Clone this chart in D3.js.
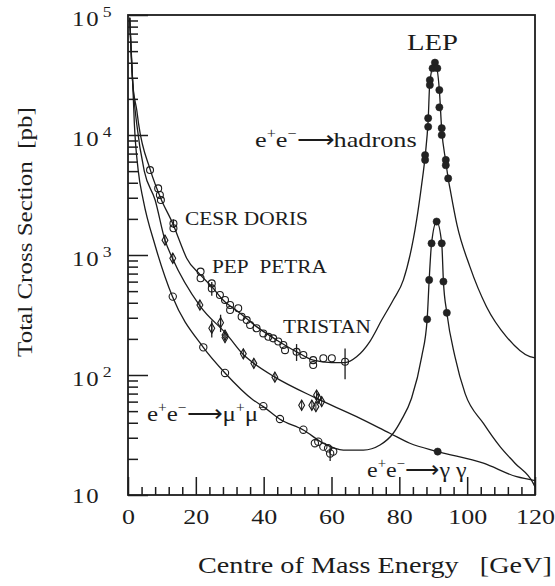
<!DOCTYPE html>
<html>
<head>
<meta charset="utf-8">
<script src="https://cdn.jsdelivr.net/npm/d3@7"></script>
<style>
  body { margin: 0; background: #fff; }
  svg { display: block; }
  svg text { font-family: "Liberation Serif", "Times New Roman", serif; fill: #1c1c1c; }
</style>
</head>
<body>
<svg id="chart" width="555" height="586"></svg>
<script>
// ---- Data (energy in GeV, cross section in pb) ----

// Theory curves
const hadronCurve = [
  [0.5, 95000], [1.4, 27000], [2.6, 16000], [3.1, 12500], [6.6, 5100], [9.8, 2900],
  [13.3, 1800], [15.3, 1290], [17.3, 940], [21.2, 690], [24.7, 545], [28.1, 420],
  [32.5, 337], [37.9, 253], [43.8, 196], [49.7, 156], [54.6, 133], [60, 127], [64, 127],
  [67.4, 142], [71.3, 190], [74.8, 287], [78.2, 422], [81.2, 620], [85.1, 1960],
  [86.6, 3900], [87.6, 6600], [88.5, 13300], [89.0, 27800], [90.5, 40500], [91.8, 23700],
  [92.5, 11000], [93.7, 6000], [94.4, 4350], [95.0, 3500], [97.0, 1780], [100.8, 800],
  [105.7, 371], [111.6, 208], [118.5, 142], [120, 139]
];
const gammaCurve = [
  [0.5, 95000], [1.4, 27000], [2.55, 12500], [4.8, 5000], [8.0, 2870], [10.9, 1330],
  [13.1, 940], [21.2, 377], [29.3, 215], [34.0, 148], [37.1, 125], [43.3, 96],
  [55.0, 65], [67.4, 45], [77.2, 32.7], [83.1, 27], [91.3, 23], [104.8, 18.4],
  [114.6, 14.2], [120, 13.2]
];
const muonCurve = [
  [0.5, 95000], [1.4, 27000], [1.87, 12500], [3.0, 5100], [4.5, 2870], [8.0, 1200],
  [13.1, 450], [22.2, 170], [28.6, 104], [36.9, 62], [39.9, 54.5], [44.8, 42.8],
  [51.7, 34.8], [57.6, 27], [63.5, 23.7], [69.4, 23.7], [74.3, 26.1], [78.2, 32.7],
  [80.5, 41.7], [83.6, 64], [86.6, 142], [88.2, 291], [88.8, 620], [89.5, 1250],
  [91.0, 1900], [92.5, 1250], [93.0, 600], [94.0, 330], [96.4, 142], [99.4, 70],
  [104.8, 39.5], [109.7, 25.3], [114.1, 18.4], [119.5, 12.5], [120, 11.7]
];

// Measurements: [energy, cross section, error]
const hadronData = [
  [6.5, 5100, 0], [8.9, 3590, 0], [9.4, 3160, 0], [9.7, 2870, 0], [13.4, 1830, 150], [13.4, 1670, 0],
  [21.4, 727, 0], [21.4, 640, 0], [24.7, 580, 0], [24.7, 527, 70], [27.1, 464, 0], [28.6, 422, 0],
  [30.1, 383, 0], [30.1, 348, 0], [32.5, 360, 0], [33.5, 306, 0], [35.0, 287, 0], [36.0, 261, 0],
  [37.9, 245, 0], [39.9, 222, 0], [41.4, 208, 0], [42.8, 202, 0], [44.3, 190, 0], [45.8, 178, 0],
  [46.3, 161, 0], [49.7, 156, 25], [51.7, 147, 0], [54.6, 133, 0], [54.6, 121, 0], [57.6, 138, 0],
  [60.1, 138, 0], [64.0, 129, 37]
];
const gammaData = [
  [10.9, 1330, 0], [13.2, 940, 0], [21.2, 383, 0], [24.7, 245, 40], [27.3, 273, 45],
  [28.6, 215, 0], [28.6, 205, 0], [34.0, 150, 0], [37.1, 125, 0], [43.3, 96, 0],
  [51.2, 56, 0], [54.2, 56, 0], [55.6, 68, 0], [56.1, 64, 0], [57.1, 60, 0], [55.4, 54.5, 0]
];
const muonData = [
  [13.2, 450, 0], [22.2, 170, 0], [28.6, 104, 0], [39.9, 55, 0], [44.8, 43, 0], [51.7, 35, 0],
  [55.1, 27, 0], [56.1, 27.8, 0], [57.6, 25.3, 0], [59.0, 24.5, 0], [60.5, 23, 0], [59.6, 22.2, 3]
];
const lepHadron = [
  [90.5, 40100], [89.8, 36000], [91.2, 36000], [89.0, 28700], [89.0, 26100], [91.8, 23700],
  [91.8, 17000], [88.5, 13800], [88.5, 11700], [92.5, 11400], [92.5, 10000], [87.6, 6800],
  [87.6, 6200], [93.7, 6200], [93.7, 5600], [94.4, 4350]
];
const lepMuon = [
  [91.0, 1900], [89.5, 1250], [92.5, 1250], [88.8, 620], [93.0, 600], [88.2, 291], [94.0, 330]
];
const lepGamma = [[91.3, 23]];

// Axis ticks
const xMajorTicks = [0, 20, 40, 60, 80, 100, 120];
const xMinorTicks = [4, 8, 12, 16, 24, 28, 32, 36, 44, 48, 52, 56, 64, 68, 72, 76, 84, 88, 92, 96, 104, 108, 112, 116];
const yDecades = [10, 100, 1000, 10000, 100000];
const yDecadeExponents = ["", "2", "3", "4", "5"];

// ---- Drawing ----
const svg = d3.select("#chart");
const ink = "#1c1c1c";
const serif = '"Liberation Serif", "Times New Roman", serif';
const SX = 1.18; // horizontal stretch of the lettering

const x = d3.scaleLinear().domain([0, 120]).range([128, 535]);
const y = d3.scaleLog().domain([10, 1e5]).range([495, 15]);

function addText(parent) {
  return (parent || svg).append("text").style("font-family", serif).attr("fill", ink);
}

// frame
svg.append("rect")
  .attr("x", x(0)).attr("y", y(1e5))
  .attr("width", x(120) - x(0)).attr("height", y(10) - y(1e5))
  .attr("fill", "none").attr("stroke", ink).attr("stroke-width", 1.8);

function styleAxis(g) {
  g.attr("font-family", null);
  g.select(".domain").remove();
  g.selectAll(".tick line").attr("stroke", ink).attr("stroke-width", 1.5);
}

// x axis: minor and major ticks pointing inward
svg.append("g").attr("transform", `translate(0,${y(10)})`)
  .call(d3.axisBottom(x).tickValues(xMinorTicks).tickSize(-8).tickFormat(""))
  .call(styleAxis);
svg.append("g").attr("transform", `translate(0,${y(10)})`)
  .call(d3.axisBottom(x).tickValues(xMajorTicks).tickSize(-18).tickPadding(13).tickFormat(d3.format("d")))
  .call(styleAxis)
  .call(g => g.selectAll(".tick text")
    .style("font-family", serif).style("font-size", "22px").attr("fill", ink)
    .attr("transform", `scale(${SX},1)`));

// y axis: log ticks pointing inward
const yMinor = [];
yDecades.slice(0, -1).forEach(d => { for (let k = 2; k <= 9; k++) yMinor.push(d * k); });
svg.append("g").attr("transform", `translate(${x(0)},0)`)
  .call(d3.axisLeft(y).tickValues(yMinor).tickSize(-10).tickFormat(""))
  .call(styleAxis);
svg.append("g").attr("transform", `translate(${x(0)},0)`)
  .call(d3.axisLeft(y).tickValues(yDecades).tickSize(-20).tickFormat(""))
  .call(styleAxis);

// decade labels 10, 10^2 ... 10^5
yDecades.forEach((v, i) => {
  const t = addText()
    .attr("transform", `translate(72,${y(v) + (i === 0 ? 8 : 11)}) scale(${SX},1)`)
    .attr("font-size", 21).attr("letter-spacing", 1.5);
  t.append("tspan").text("10");
  if (yDecadeExponents[i]) {
    t.append("tspan").attr("dx", 2).attr("dy", -9).attr("font-size", 15).attr("letter-spacing", 0)
      .text(yDecadeExponents[i]);
  }
});

// fit a text element to a given width by horizontal scaling
function placeText(sel, x0, yBase, width) {
  const w = sel.node().getComputedTextLength();
  sel.attr("transform", `translate(${x0},${yBase}) scale(${width / w},1)`);
  return sel;
}

// axis titles
placeText(addText().attr("font-size", 23)
  .text("Centre of Mass Energy\u00a0\u00a0\u00a0[GeV]"), 198, 573, 354);
{
  const t = addText().attr("font-size", 22).text("Total Cross Section\u00a0\u00a0[pb]");
  const w = t.node().getComputedTextLength();
  t.attr("text-anchor", "middle")
   .attr("transform", `translate(32,232) rotate(-90) scale(${250 / w},1)`);
}

// theory curves
const line = d3.line().x(d => x(d[0])).y(d => y(d[1])).curve(d3.curveMonotoneX);
[hadronCurve, gammaCurve, muonCurve].forEach(c => {
  svg.append("path").datum(c).attr("d", line)
    .attr("fill", "none").attr("stroke", ink).attr("stroke-width", 1.3);
});

// error bars
function errorBars(data) {
  svg.append("g").selectAll("line").data(data.filter(d => d[2] > 0)).join("line")
    .attr("x1", d => x(d[0])).attr("x2", d => x(d[0]))
    .attr("y1", d => y(d[1] - d[2])).attr("y2", d => y(d[1] + d[2]))
    .attr("stroke", ink).attr("stroke-width", 1.3);
}
errorBars(hadronData);
errorBars(gammaData);
errorBars(muonData);

// open markers
function openMarks(data, type, size) {
  svg.append("g").selectAll("path").data(data).join("path")
    .attr("transform", d => `translate(${x(d[0])},${y(d[1])})`)
    .attr("d", d3.symbol().type(type).size(size))
    .attr("fill", "none").attr("stroke", ink).attr("stroke-width", 1.1);
}
openMarks(hadronData, d3.symbolCircle, 38);
openMarks(gammaData, d3.symbolDiamond, 30);
svg.append("g").selectAll("line").data(gammaData).join("line")
  .attr("x1", d => x(d[0])).attr("x2", d => x(d[0]))
  .attr("y1", d => y(d[1]) - 5).attr("y2", d => y(d[1]) + 5)
  .attr("stroke", ink).attr("stroke-width", 1);
openMarks(muonData, d3.symbolCircle, 42);

// LEP filled points
svg.append("g").selectAll("circle").data([...lepHadron, ...lepMuon, ...lepGamma]).join("circle")
  .attr("cx", d => x(d[0])).attr("cy", d => y(d[1])).attr("r", 3.6)
  .attr("fill", "#222").attr("stroke", "#222").attr("stroke-width", 0.6);

// process labels with superscripts
function richLabel(x0, yBase, size, segs, width) {
  const t = addText().attr("font-size", size);
  let up = false;
  segs.forEach(([s, sup]) => {
    const ts = t.append("tspan").text(s);
    if (sup) {
      ts.attr("font-size", size * 0.62);
      if (!up) { ts.attr("dy", -size * 0.4); up = true; }
    } else if (up) {
      ts.attr("dy", size * 0.4); up = false;
    }
  });
  return placeText(t, x0, yBase, width);
}
const arrow = "\u27F6";
richLabel(255, 147, 22, [["e"], ["+", 1], ["e"], ["\u2212", 1], [arrow], ["hadrons"]], 163);
richLabel(147, 421, 22, [["e"], ["+", 1], ["e"], ["\u2212", 1], [arrow], ["\u03bc"], ["+", 1], ["\u03bc"], ["\u2212", 1]], 120);
richLabel(367, 477, 22, [["e"], ["+", 1], ["e"], ["\u2212", 1], [arrow], ["\u03b3\u00a0\u03b3"]], 100);

// accelerator labels
placeText(addText().attr("font-size", 23).text("LEP"), 407, 50, 51);
placeText(addText().attr("font-size", 18).text("CESR DORIS"), 185, 225, 123);
placeText(addText().attr("font-size", 18).text("PEP\u00a0\u00a0PETRA"), 212, 273, 115);
placeText(addText().attr("font-size", 18).text("TRISTAN"), 283, 333, 88);
</script>
</body>
</html>
